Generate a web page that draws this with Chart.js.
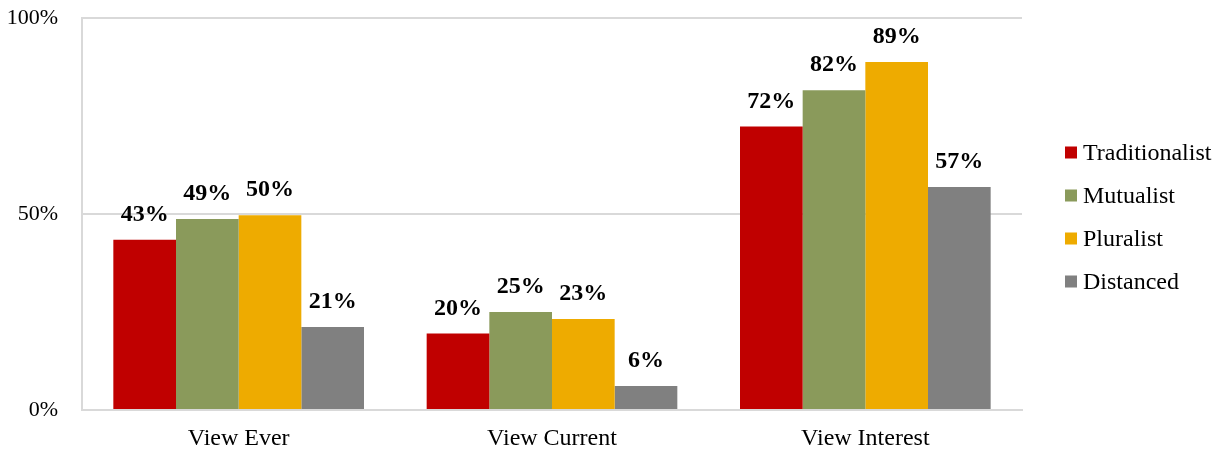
<!DOCTYPE html>
<html>
<head>
<meta charset="utf-8">
<script src="https://cdn.jsdelivr.net/npm/chart.js@4/dist/chart.umd.min.js"></script>
<style>
  html, body { margin: 0; padding: 0; background: #ffffff; }
  #wrap { width: 1220px; height: 452px; }
</style>
</head>
<body>
<div id="wrap"><canvas id="c" width="1220" height="452"></canvas></div>
<script>
const categories = ['View Ever', 'View Current', 'View Interest'];
const seriesNames = ['Traditionalist', 'Mutualist', 'Pluralist', 'Distanced'];
const traditionalist = [43.4, 19.5, 72.3];
const mutualist = [48.7, 25.0, 81.6];
const pluralist = [49.7, 23.2, 88.8];
const distanced = [21.2, 6.1, 56.9];
const yTicks = [0, 50, 100];
const colors = ['#C00000', '#8A9A5B', '#EEAB00', '#808080'];

const seriesValues = [traditionalist, mutualist, pluralist, distanced];
const FONT = "'Liberation Serif', 'Times New Roman', serif";

const labelPlugin = {
  id: 'valueLabels',
  afterDatasetsDraw(chart) {
    const ctx = chart.ctx;
    ctx.save();
    ctx.font = 'bold 24px ' + FONT;
    ctx.fillStyle = '#000000';
    ctx.textAlign = 'center';
    ctx.textBaseline = 'bottom';
    chart.data.datasets.forEach((ds, i) => {
      const meta = chart.getDatasetMeta(i);
      meta.data.forEach((bar, j) => {
        ctx.fillText(Math.round(ds.data[j]) + '%', bar.x, bar.y - 13);
      });
    });
    ctx.restore();
  }
};

const legendPlugin = {
  id: 'sideLegend',
  afterDraw(chart) {
    const ctx = chart.ctx;
    const area = chart.chartArea;
    const n = chart.data.datasets.length;
    const step = 43;
    const cy = (area.top + area.bottom) / 2 + 3;
    const x0 = area.right + 43;
    ctx.save();
    ctx.font = '24px ' + FONT;
    ctx.textAlign = 'left';
    ctx.textBaseline = 'middle';
    chart.data.datasets.forEach((ds, i) => {
      const y = cy + (i - (n - 1) / 2) * step;
      ctx.fillStyle = ds.backgroundColor;
      ctx.fillRect(x0, y - 6, 12, 12);
      ctx.fillStyle = '#000000';
      ctx.fillText(ds.label, x0 + 18, y + 1);
    });
    ctx.restore();
  }
};

new Chart(document.getElementById('c'), {
  type: 'bar',
  data: {
    labels: categories,
    datasets: seriesNames.map((name, i) => ({
      label: name,
      data: seriesValues[i],
      backgroundColor: colors[i],
      borderWidth: 0,
      categoryPercentage: 0.8,
      barPercentage: 1.0
    }))
  },
  options: {
    responsive: false,
    animation: false,
    devicePixelRatio: 1,
    layout: { padding: { top: 18, left: 0, right: 198, bottom: 0 } },
    plugins: {
      legend: { display: false },
      tooltip: { enabled: false }
    },
    scales: {
      x: {
        grid: { display: false, drawTicks: false },
        border: { display: true, color: '#d9d9d9', width: 2 },
        afterFit(axis) {
          axis.height = 42;
          axis.paddingLeft = 0; axis.paddingRight = 0;
          axis.paddingTop = 0; axis.paddingBottom = 0;
        },
        ticks: {
          font: { family: FONT, size: 24 },
          color: '#000000',
          padding: 14
        }
      },
      y: {
        min: 0,
        max: 100,
        afterBuildTicks(axis) { axis.ticks = yTicks.map(v => ({ value: v })); },
        afterFit(axis) {
          axis.width = 82;
          axis.paddingTop = 0; axis.paddingBottom = 0;
          axis.paddingLeft = 0; axis.paddingRight = 0;
        },
        grid: { color: '#d9d9d9', lineWidth: 2, drawTicks: false },
        border: { display: true, color: '#d9d9d9', width: 2 },
        ticks: {
          font: { family: FONT, size: 22 },
          color: '#000000',
          padding: 24,
          callback: v => v + '%'
        }
      }
    }
  },
  plugins: [labelPlugin, legendPlugin]
});
</script>
</body>
</html>
